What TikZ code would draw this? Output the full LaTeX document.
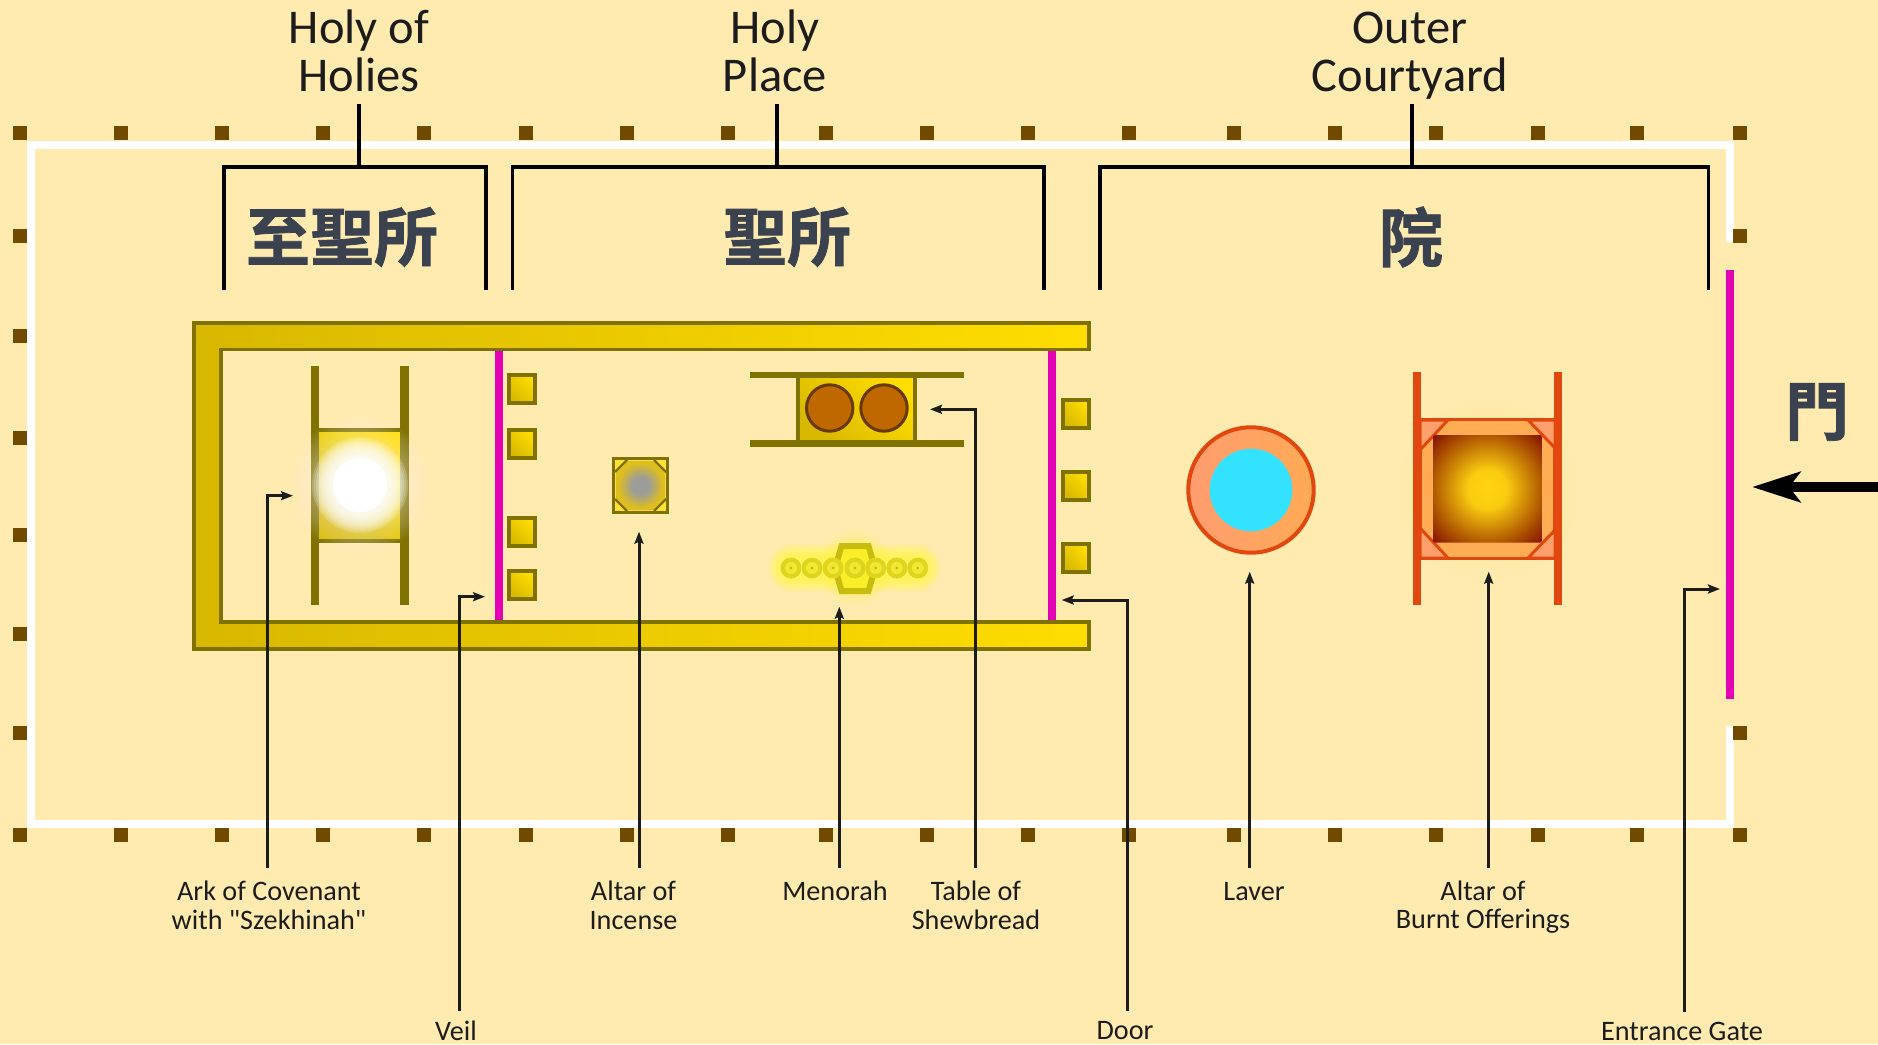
\documentclass[tikz,border=0pt]{standalone}
\usepackage{fontspec}
\setmainfont{Carlito}
\newfontfamily\plainquote[Ligatures=NoCommon]{Carlito}
\newfontfamily\cjkbold[BoldFont={Noto Sans CJK TC Bold},BoldFeatures={FakeBold=1.2}]{Noto Sans CJK TC}
\usetikzlibrary{arrows.meta}
\definecolor{bgc}{HTML}{FFEAAF}
\definecolor{postc}{HTML}{704A00}
\definecolor{olivec}{HTML}{807200}
\definecolor{gold1}{HTML}{D8B800}
\definecolor{gold2}{HTML}{FFDD00}
\definecolor{magc}{HTML}{E400B4}
\definecolor{slatec}{HTML}{3A4250}
\definecolor{redc}{HTML}{E0480F}
\definecolor{inkc}{HTML}{1C1C1C}
\definecolor{loaffill}{RGB}{192,104,0}
\definecolor{loafline}{RGB}{105,58,0}
\definecolor{glowc}{RGB}{255,255,50}
\definecolor{menline}{RGB}{200,188,14}
\definecolor{menfill}{RGB}{250,238,40}
\definecolor{lampout}{RGB}{222,214,30}
\definecolor{lampin}{RGB}{240,232,50}
\definecolor{lavera}{RGB}{255,156,112}
\definecolor{laverb}{RGB}{255,170,84}
\definecolor{waterc}{RGB}{51,226,255}
\definecolor{halo}{RGB}{255,232,155}
\definecolor{brassa}{RGB}{255,172,84}
\definecolor{brassb}{RGB}{255,160,108}
\definecolor{firea}{RGB}{255,212,16}
\definecolor{fireb}{RGB}{250,204,16}
\definecolor{firec}{RGB}{176,88,0}
\definecolor{fired}{RGB}{134,18,0}
\definecolor{incena}{RGB}{155,155,155}
\definecolor{incenb}{RGB}{158,158,150}
\definecolor{incenc}{RGB}{222,190,30}
\definecolor{incend}{RGB}{228,196,20}
\pgfdeclareradialshading{firesh}{\pgfpoint{0bp}{0bp}}{color(0bp)=(firea);color(9bp)=(fireb);color(25bp)=(firec);color(35bp)=(fired);color(50bp)=(fired)}
\pgfdeclareradialshading{incensesh}{\pgfpoint{0bp}{0bp}}{color(0bp)=(incena);color(9bp)=(incenb);color(23bp)=(incenc);color(50bp)=(incend)}
\tikzset{
  x=1pt,y=-1pt,
  post/.style={fill=postc,draw=none,minimum size=14pt,inner sep=0pt,rectangle},
  whitewall/.style={draw=white,line width=8pt,line cap=butt,line join=miter},
  bracket/.style={draw=black,line width=3.5pt,line join=miter},
  curtain/.style={fill=magc,draw=none},
  goldbox/.style={draw=olivec,line width=4pt,left color=gold1,right color=gold2,shading angle=135},
  pole/.style={fill=olivec,draw=none},
  redpole/.style={fill=redc,draw=none},
  cornerbit/.style={draw=redc,line width=3pt,fill=brassb,line join=bevel},
  lead/.style={draw=inkc,line width=3pt,line join=miter,-{Stealth[length=12pt,width=9pt,inset=2pt]}},
  toplabel/.style={font=\fontsize{48.5}{48}\selectfont,align=center,text=inkc,inner sep=0pt},
  botlabel/.style={font=\fontsize{28.2}{28.7}\selectfont,align=center,text=inkc,inner sep=0pt},
  cjklabel/.style={font=\cjkbold\bfseries\fontsize{64}{64}\selectfont,text=slatec,inner sep=0pt},
}
\begin{document}
\begin{tikzpicture}
\useasboundingbox (0,0) rectangle (1878,1044);
\fill[bgc] (0,0) rectangle (1878,1044);

% court wall
\draw[whitewall] (1729.5,241.5) -- (1729.5,145) -- (31,145) -- (31,824) -- (1729.5,824) -- (1729.5,725.5);
% posts
\foreach \px in {20,121,222,323,424,526,627,728,826,927,1028,1129,1234,1335,1436,1538,1637,1740}{
  \node[post] at (\px,133) {};
  \node[post] at (\px,835) {};
}
\foreach \py in {235.5,336,438,535,634,733}{\node[post] at (20,\py) {};}
\foreach \py in {235.5,733}{\node[post] at (1740,\py) {};}

% entrance gate curtain
\fill[curtain] (1726,270) rectangle (1734,699);

% brackets
\draw[bracket] (224,290) -- (224,167) -- (486,167) -- (486,290);
\draw[bracket] (359,104) -- (359,167);
\draw[bracket] (512.5,290) -- (512.5,167) -- (1044,167) -- (1044,290);
\draw[bracket] (777,104) -- (777,167);
\draw[bracket] (1100,290) -- (1100,167) -- (1708.7,167) -- (1708.7,290);
\draw[bracket] (1412,104) -- (1412,167);

% temple walls
\draw[draw=olivec,line width=3.6pt,left color=gold1,right color=gold2,line join=miter]
  (1089,323) -- (194,323) -- (194,649) -- (1089,649) -- (1089,622) -- (221,622) -- (221,349.5) -- (1089,349.5) -- cycle;

% veil and door
\fill[curtain] (495,351) rectangle (503,620);
\fill[curtain] (1048,351) rectangle (1056,620);

% pillars
\foreach \py in {389,444,532,585}{
  \draw[goldbox] (508.7,\py-14) rectangle (535.4,\py+14);
}
\foreach \py in {413.5,485.5,558}{
  \draw[goldbox] (1062.7,\py-14) rectangle (1089.2,\py+14);
}

% ark
\draw[goldbox,line width=4pt] (317,430) rectangle (402,541);
\fill[pole] (310.7,365.7) rectangle (319.3,605);
\fill[pole] (400,365.7) rectangle (408.7,605);
\foreach \r in {70,68,...,50}{\fill[white,opacity=.03] (360,485) circle (\r);}
\foreach \r in {48,46,...,28}{\fill[white,opacity=.2] (360,485) circle (\r);}
\fill[white] (360,485) circle (27);

% altar of incense
\fill[olivec] (611.7,457) rectangle (669,514);
\fill[gold2!70!bgc] (615,460) rectangle (665.7,510.7);
\shade[shading=incensesh] (627.5,461) -- (653.5,461) -- (665,472.5) -- (665,498.5) -- (653.5,510) -- (627.5,510) -- (616,498.5) -- (616,472.5) -- cycle;
\draw[olivec,line width=2.2pt] (615,472) -- (627,460) (654,460) -- (666,472) (666,499) -- (654,511) (627,511) -- (615,499);

% table of shewbread
\draw[goldbox,line width=4pt] (798,375) rectangle (915,443);
\fill[pole] (750,371.7) rectangle (964,378.3);
\fill[pole] (750,439.9) rectangle (964,446.7);
\foreach \cx in {829.7,884}{
  \draw[fill=loaffill,draw=loafline,line width=3pt] (\cx,408) circle (23.2);
}

% menorah
\foreach \w in {48,46,...,22}{
  \draw[line cap=round,line width=\w pt,draw=glowc,opacity=.07] (792,568) -- (917,568);
}
\foreach \r in {38,36,...,28}{\fill[glowc,opacity=.05] (855,568) circle (\r);}
\draw[draw=menline,line width=6pt,fill=menfill,line join=miter]
  (841.5,546) -- (868.5,546) -- (875,568) -- (868.5,591) -- (841.5,591) -- (835,568) -- cycle;
\foreach \cx in {791,812,833,855,875.7,896.7,917.7}{
  \fill[lampout] (\cx,568) circle (10.5);
  \fill[lampin] (\cx,568) circle (6);
  \fill[menline] (\cx,568) circle (1.6);
}

% laver
\draw[draw=redc,line width=4pt,left color=lavera,right color=laverb] (1251,490) circle (62.7);
\fill[waterc] (1251,490) circle (41.3);

% altar of burnt offerings
\shade[inner color=halo,outer color=bgc] (1488,490) circle (94);
\draw[draw=redc,line width=3.5pt,fill=brassa] (1420,419.5) rectangle (1555,558.5);
\draw[cornerbit] (1420,450) -- (1448,420) -- (1420,420) -- cycle;
\draw[cornerbit] (1555,448) -- (1528,420) -- (1555,420) -- cycle;
\draw[cornerbit] (1420,528) -- (1448,558) -- (1420,558) -- cycle;
\draw[cornerbit] (1555,530) -- (1528,558) -- (1555,558) -- cycle;
\fill[redpole] (1412.7,371.7) rectangle (1420.7,605);
\fill[redpole] (1554,371.7) rectangle (1562,605);
\shade[shading=firesh,rounded corners=2pt] (1433,435) rectangle (1541.7,542.7);

% section labels
\node[toplabel] (lhh) at (359,51) {Holy of\\Holies};
\node[toplabel] (lhp) at (775,51) {Holy\\Place};
\node[toplabel] (loc) at (1410,56) {Outer\\Courtyard};
\node[cjklabel] (chh) at (342,237) {至聖所};
\node[cjklabel] (chp) at (787,237) {聖所};
\node[cjklabel] (coc) at (1411,237) {院};
\node[cjklabel] (cgt) at (1817,412) {門};

% big arrow
\coordinate (bigfrom) at (1878,487);
\coordinate (bigto) at (1752,487);
\draw[draw=black,line width=10pt,-{Stealth[length=48pt,width=30pt,inset=11pt]}] (bigfrom) -- (bigto);

% item labels
\node[botlabel] (lark) at (269,905) {Ark of Covenant\\with {\plainquote"}Szekhinah{\plainquote"}};
\node[botlabel] (lalt) at (633.5,905) {Altar of\\Incense};
\node[botlabel] (lmen) at (835,891) {Menorah};
\node[botlabel] (ltab) at (976,905) {Table of\\Shewbread};
\node[botlabel] (llav) at (1254,892) {Laver};
\node[botlabel] (lbur) at (1483,907) {Altar of\\Burnt Offerings};
\node[botlabel] (lvei) at (456,1031) {Veil};
\node[botlabel] (ldoo) at (1125,1031) {Door};
\node[botlabel] (lent) at (1682,1031) {Entrance Gate};

% leaders
\coordinate (ta) at (267.7,868);   \coordinate (tb) at (459.3,1011);
\coordinate (tc) at (639,868);     \coordinate (td) at (839.3,868);
\coordinate (te) at (975,868);     \coordinate (tf) at (1127,1011);
\coordinate (tg) at (1249.7,868);  \coordinate (th) at (1488.7,868);
\coordinate (ti) at (1684,1012);
\coordinate (ha) at (293,495.7);   \coordinate (hb) at (485,596.7);
\coordinate (hc) at (639,531.7);   \coordinate (hd) at (839.3,606.7);
\coordinate (he) at (930,409.3);   \coordinate (hf) at (1061.7,600);
\coordinate (hg) at (1249.7,571.7);\coordinate (hh) at (1488.7,571.7);
\coordinate (hi) at (1720,589);
\draw[lead] (ta) |- (ha);
\draw[lead] (tb) |- (hb);
\draw[lead] (tc) -- (hc);
\draw[lead] (td) -- (hd);
\draw[lead] (te) |- (he);
\draw[lead] (tf) |- (hf);
\draw[lead] (tg) -- (hg);
\draw[lead] (th) -- (hh);
\draw[lead] (ti) |- (hi);
\end{tikzpicture}
\end{document}
